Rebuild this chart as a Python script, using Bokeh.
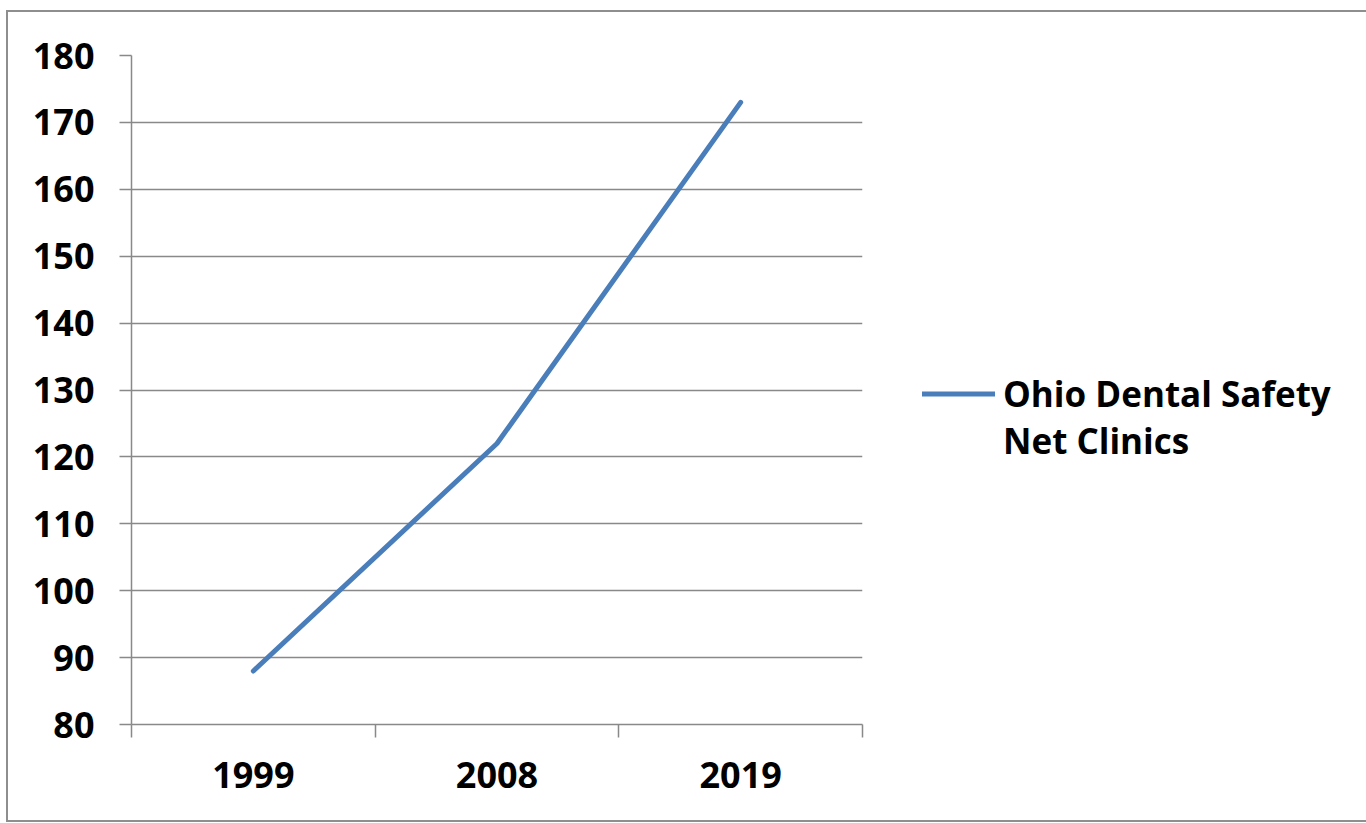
from bokeh.plotting import figure
from bokeh.models import FixedTicker, Legend, LegendItem, Range1d, ColumnDataSource
from bokeh.embed import file_html
from bokeh.resources import INLINE

years = ["1999", "2008", "2019"]
clinics = [88, 122, 173]
y_ticks = [80, 90, 100, 110, 120, 130, 140, 150, 160, 170, 180]
legend_line1 = "Ohio Dental Safety"
legend_line2 = "Net Clinics"

FONT = "Open Sans"
FSIZE = "36px"
GRID = "#898989"
BLUE = "#4a7ebb"

x_pos = [i + 0.5 for i in range(len(years))]
bounds = list(range(len(years) + 1))
src = ColumnDataSource(dict(x=x_pos, y=clinics))

p = figure(frame_width=731, frame_height=669, output_backend="svg", toolbar_location=None,
           x_range=Range1d(0, len(years)), y_range=Range1d(y_ticks[0], y_ticks[-1]),
           min_border_left=123, min_border_right=497, min_border_top=43, min_border_bottom=96,
           styles={"border": "2px solid #8e8e8e", "margin-left": "6px", "margin-top": "10px"})
p.outline_line_color = None
p.background_fill_color = "white"
p.border_fill_color = "white"

# x axis
p.xaxis.ticker = FixedTicker(ticks=x_pos, minor_ticks=bounds)
p.xaxis.major_label_overrides = {x: y for x, y in zip(x_pos, years)}
p.xaxis.major_tick_line_color = None
p.xaxis.major_tick_out = 0
p.xaxis.major_tick_in = 0
p.xaxis.minor_tick_out = 13
p.xaxis.minor_tick_in = 0
p.xaxis.minor_tick_line_color = GRID
p.xaxis.minor_tick_line_width = 1.5
p.xaxis.axis_line_color = GRID
p.xaxis.axis_line_width = 1.5
p.xaxis.major_label_standoff = 24
p.xaxis.major_label_text_font = FONT
p.xaxis.major_label_text_font_style = "bold"
p.xaxis.major_label_text_font_size = FSIZE
p.xaxis.major_label_text_color = "black"

# y axis
p.yaxis.ticker = FixedTicker(ticks=y_ticks)
p.yaxis.major_tick_out = 12
p.yaxis.major_tick_in = 0
p.yaxis.minor_tick_line_color = None
p.yaxis.major_tick_line_color = GRID
p.yaxis.major_tick_line_width = 1.5
p.yaxis.axis_line_color = GRID
p.yaxis.axis_line_width = 1.5
p.yaxis.major_label_standoff = 25
p.yaxis.major_label_text_font = FONT
p.yaxis.major_label_text_font_style = "bold"
p.yaxis.major_label_text_font_size = FSIZE
p.yaxis.major_label_text_color = "black"

p.xgrid.visible = False
p.ygrid.grid_line_color = GRID
p.ygrid.grid_line_width = 1.5

r = p.line("x", "y", source=src, line_color=BLUE, line_width=5, line_cap="round")
# invisible renderer used only to carry the wrapped second legend line
r_blank = p.line(x=[], y=[], line_alpha=0)

legend = Legend(items=[LegendItem(label=legend_line1, renderers=[r]),
                       LegendItem(label=legend_line2, renderers=[r_blank])],
                location=(60, 260), padding=0, margin=0, spacing=0,
                glyph_width=73, glyph_height=25, label_height=25, label_standoff=8,
                label_text_font=FONT, label_text_font_style="bold",
                label_text_font_size="35px", label_text_color="black",
                border_line_color=None, background_fill_alpha=0)
p.add_layout(legend, "right")

open("out.html", "w").write(file_html(p, INLINE))
